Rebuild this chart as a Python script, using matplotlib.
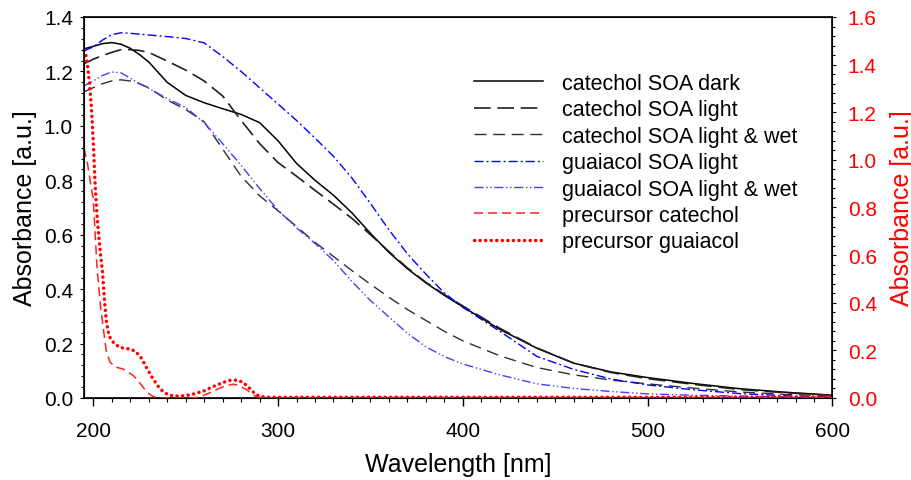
import matplotlib
matplotlib.use('Agg')
import matplotlib.pyplot as plt
from matplotlib.ticker import MultipleLocator

plt.rcParams['font.family'] = ['Liberation Sans', 'DejaVu Sans']
plt.rcParams['lines.scale_dashes'] = False

# wavelength grid for the SOA spectra (nm)
wl = [195, 200, 205, 210, 215, 220, 225, 230, 240, 250, 260, 270, 280, 290,
      300, 310, 320, 330, 340, 350, 360, 370, 380, 390, 400, 420, 440, 460,
      480, 500, 525, 550, 575, 600]

# SOA absorbance, left axis
cat_dark = [1.283, 1.292, 1.302, 1.306, 1.300, 1.285, 1.262, 1.235, 1.160, 1.112,
            1.085, 1.063, 1.042, 1.012, 0.945, 0.862, 0.800, 0.745, 0.680, 0.605,
            0.535, 0.475, 0.423, 0.377, 0.335, 0.252, 0.183, 0.128, 0.096, 0.075,
            0.053, 0.034, 0.021, 0.010]
cat_light = [1.228, 1.245, 1.258, 1.270, 1.280, 1.280, 1.277, 1.270, 1.238, 1.205,
             1.165, 1.110, 1.020, 0.935, 0.865, 0.815, 0.763, 0.712, 0.660, 0.600,
             0.538, 0.478, 0.425, 0.380, 0.338, 0.256, 0.184, 0.128, 0.094, 0.071,
             0.050, 0.031, 0.019, 0.010]
cat_light_wet = [1.125, 1.140, 1.155, 1.165, 1.169, 1.165, 1.155, 1.140, 1.095, 1.060,
                 1.015, 0.915, 0.815, 0.743, 0.688, 0.630, 0.572, 0.520, 0.468, 0.418,
                 0.370, 0.325, 0.285, 0.245, 0.210, 0.155, 0.112, 0.085, 0.066, 0.052,
                 0.036, 0.022, 0.013, 0.008]
gua_light = [1.276, 1.290, 1.315, 1.335, 1.342, 1.340, 1.337, 1.334, 1.328, 1.321,
             1.305, 1.255, 1.200, 1.140, 1.080, 1.020, 0.955, 0.888, 0.808, 0.715,
             0.618, 0.530, 0.455, 0.386, 0.333, 0.245, 0.153, 0.105, 0.070, 0.048,
             0.030, 0.016, 0.008, 0.004]
gua_light_wet = [1.147, 1.165, 1.185, 1.198, 1.195, 1.175, 1.155, 1.138, 1.100, 1.068,
                 1.012, 0.935, 0.855, 0.770, 0.690, 0.625, 0.568, 0.505, 0.428, 0.358,
                 0.298, 0.238, 0.188, 0.152, 0.125, 0.085, 0.052, 0.035, 0.024, 0.015,
                 0.010, 0.007, 0.004, 0.002]

# precursor spectra, right axis
wl_pc = [195, 197, 199, 200, 202, 204, 205.5, 207, 209, 212, 216, 219, 222, 226,
         229, 232, 235, 240, 250, 256, 260, 264, 268, 272, 276, 279, 283, 286,
         289, 295, 300, 350, 400, 450, 500, 550, 600]
prec_cat = [1.05, 0.98, 0.88, 0.836, 0.554, 0.38, 0.29, 0.20, 0.151, 0.130, 0.122,
            0.108, 0.092, 0.055, 0.025, 0.008, 0.0, 0.0, 0.0, 0.002, 0.012, 0.025,
            0.040, 0.052, 0.058, 0.052, 0.035, 0.015, 0.003, 0.0, 0.001, 0.002,
            0.002, 0.002, 0.002, 0.002, 0.002]

wl_pg = [195, 196, 197, 198, 199, 200, 201, 202, 203, 204, 205, 206, 207, 208, 209,
         211, 214, 217, 220, 223, 226, 229, 232, 235, 238, 241, 245, 250, 255, 260,
         264, 268, 272, 275, 278, 281, 284, 287, 290, 295, 300, 400, 500, 600]
prec_gua = [1.46, 1.44, 1.39, 1.32, 1.22, 1.08, 0.90, 0.77, 0.68, 0.60, 0.53, 0.42,
            0.33, 0.28, 0.255, 0.232, 0.214, 0.208, 0.206, 0.195, 0.168, 0.125, 0.085,
            0.050, 0.025, 0.012, 0.008, 0.010, 0.018, 0.030, 0.045, 0.058, 0.070,
            0.076, 0.074, 0.066, 0.045, 0.022, 0.006, 0.003, 0.003, 0.003, 0.003, 0.003]

fig = plt.figure(figsize=(9.12, 4.81), dpi=100)
ax = fig.add_axes([0.0921, 0.1705, 0.8207, 0.7921])
ax2 = ax.twinx()

l1, = ax.plot(wl, cat_dark, color='black', lw=1.1, label='catechol SOA dark')
l2, = ax.plot(wl, cat_light, color='#202020', lw=1.2, dashes=(12, 4.8),
              label='catechol SOA light')
l3, = ax.plot(wl, cat_light_wet, color='#303030', lw=1.0, dashes=(8.6, 4.8),
              label='catechol SOA light & wet')
l4, = ax.plot(wl, gua_light, color='#0000ff', lw=1.0, dashes=(6.5, 2.2, 1.4, 2.2),
              label='guaiacol SOA light')
l5, = ax.plot(wl, gua_light_wet, color='#4040ff', lw=1.0,
              dashes=(6.5, 2, 1, 1.8, 1, 2), label='guaiacol SOA light & wet')
l6, = ax2.plot(wl_pc, prec_cat, color='#ff2020', lw=1.1, dashes=(6.5, 3.6),
               label='precursor catechol')
l7, = ax2.plot(wl_pg, prec_gua, color='red', lw=2.5, dashes=(0.1, 3.9),
               dash_capstyle='round', label='precursor guaiacol')

ax.set_xlim(195, 600)
ax.set_ylim(0, 1.4)
ax2.set_ylim(0, 1.6)

ax.xaxis.set_major_locator(MultipleLocator(100))
ax.xaxis.set_minor_locator(MultipleLocator(10))
ax.yaxis.set_major_locator(MultipleLocator(0.2))
ax.yaxis.set_minor_locator(MultipleLocator(0.04))
ax2.yaxis.set_major_locator(MultipleLocator(0.2))
ax2.yaxis.set_minor_locator(MultipleLocator(0.04))

ax.tick_params(axis='x', which='major', direction='out', length=5.5, width=1,
               labelsize=15, pad=11)
ax.tick_params(axis='x', which='minor', direction='out', length=3, width=0.8)
ax.tick_params(axis='y', which='major', direction='out', length=3, width=0.8,
               labelsize=15, pad=5)
ax.tick_params(axis='y', which='minor', direction='out', length=2, width=0.8)
ax2.tick_params(axis='y', which='major', direction='out', length=3, width=0.8,
                labelsize=15, pad=8, labelcolor='red')
ax2.tick_params(axis='y', which='minor', direction='out', length=2, width=0.8)

ax.set_xlabel('Wavelength [nm]', fontsize=18, labelpad=8.5)
ax.set_ylabel('Absorbance [a.u.]', fontsize=18, labelpad=4.5)
ax2.set_ylabel('Absorbance [a.u.]', fontsize=18, color='red', labelpad=9)

for sp in ax.spines.values():
    sp.set_linewidth(1.2)

ax.legend(handles=[l1, l2, l3, l4, l5, l6, l7], loc='upper left',
          bbox_to_anchor=(0.521, 0.853), frameon=False, fontsize=15.5,
          handlelength=3.2, handletextpad=0.88, labelspacing=0.25,
          borderpad=0, borderaxespad=0)

fig.savefig('out.png', dpi=100)
